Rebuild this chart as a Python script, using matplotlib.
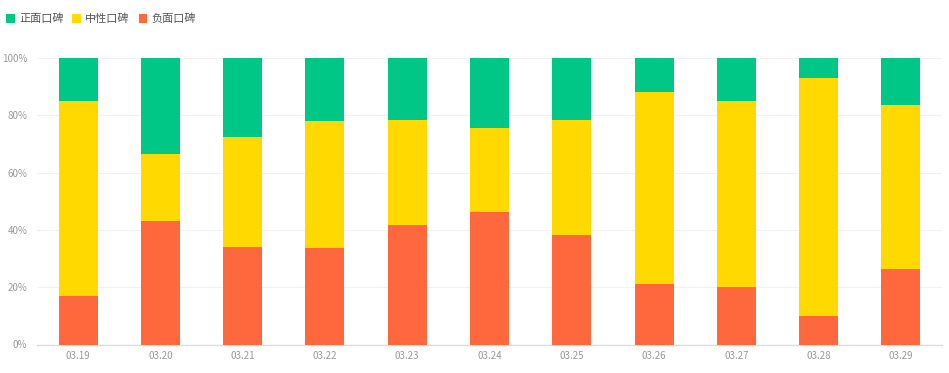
import matplotlib
matplotlib.use("Agg")
import matplotlib.pyplot as plt
import numpy as np
from matplotlib.ticker import FuncFormatter

plt.rcParams['font.family'] = ['Noto Sans CJK SC', 'DejaVu Sans']

dates = ["03.19", "03.20", "03.21", "03.22", "03.23", "03.24",
         "03.25", "03.26", "03.27", "03.28", "03.29"]
negative = [17.1, 43.0, 33.9, 33.6, 41.7, 46.4, 38.2, 21.2, 19.9, 10.1, 26.2]
neutral = [67.8, 23.5, 38.4, 44.4, 36.6, 29.0, 40.0, 66.8, 65.2, 82.8, 57.3]
positive = [15.1, 33.5, 27.7, 22.0, 21.7, 24.6, 21.8, 12.0, 14.9, 7.1, 16.5]

series_names = ["正面口碑", "中性口碑", "负面口碑"]
colors = {"正面口碑": "#00C785", "中性口碑": "#FFD900", "负面口碑": "#FF673D"}

W, H = 949, 373
fig = plt.figure(figsize=(W / 100, H / 100), dpi=100)
ax = fig.add_axes([37 / W, 1 - 344.5 / H, (942 - 37) / W, (344.5 - 58) / H])

x = np.arange(len(dates))
neg = np.array(negative)
neu = np.array(neutral)
pos = np.array(positive)
bw = 0.475
b_neg = ax.bar(x, neg, bw, color=colors["负面口碑"], label="负面口碑", zorder=3)
b_neu = ax.bar(x, neu, bw, bottom=neg, color=colors["中性口碑"], label="中性口碑", zorder=3)
b_pos = ax.bar(x, pos, bw, bottom=neg + neu, color=colors["正面口碑"], label="正面口碑", zorder=3)

ax.set_xlim(-0.5, len(dates) - 0.5)
ax.set_ylim(0, 100)
ax.set_yticks([0, 20, 40, 60, 80, 100])
ax.yaxis.set_major_formatter(FuncFormatter(lambda v, p: f"{int(v)}%"))
ax.set_xticks(x)
ax.set_xticklabels(dates)
ax.grid(axis='y', color='#F2F2F2', linewidth=0.8, zorder=0)
for s in ['top', 'right', 'left']:
    ax.spines[s].set_visible(False)
ax.spines['bottom'].set_color('#DDDDDD')
ax.spines['bottom'].set_linewidth(1.0)
ax.tick_params(axis='both', length=0, colors='#999999', labelsize=7)
ax.tick_params(axis='x', pad=5)
ax.tick_params(axis='y', pad=7)

fig.legend(handles=[b_pos, b_neu, b_neg], labels=series_names,
           loc='center left', bbox_to_anchor=(4 / W, 1 - 19 / H),
           ncol=3, frameon=False, fontsize=8, handlelength=0.8, handleheight=0.8,
           handletextpad=0.35, columnspacing=0.8, borderpad=0.2, borderaxespad=0,
           labelcolor='#555555')

fig.savefig("out.png", dpi=100)
